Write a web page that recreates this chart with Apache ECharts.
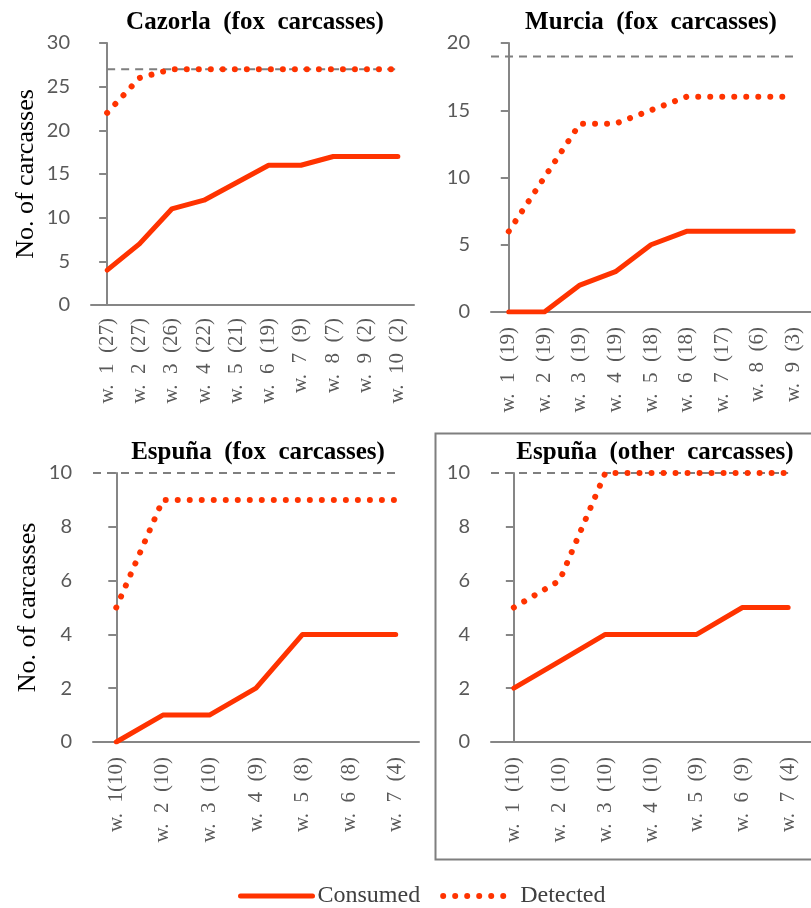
<!DOCTYPE html>
<html>
<head>
<meta charset="utf-8">
<script src="https://cdn.jsdelivr.net/npm/echarts@6/dist/echarts.min.js"></script>
<style>
  html, body { margin: 0; padding: 0; background: #ffffff; }
  #chart { width: 811px; height: 908px; }
</style>
</head>
<body>
<div id="chart"></div>
<script>
// Weekly cumulative counts of carcasses consumed / detected at each site.
// Category labels: week number and, in brackets, carcasses still available.
const cazorlaWeeks = ['w. 1 (27)', 'w. 2 (27)', 'w. 3 (26)', 'w. 4 (22)', 'w. 5 (21)',
                      'w. 6 (19)', 'w. 7 (9)', 'w. 8 (7)', 'w. 9 (2)', 'w. 10 (2)'];
const cazorlaConsumed = [4, 7, 11, 12, 14, 16, 16, 17, 17, 17];
const cazorlaDetected = [22, 26, 27, 27, 27, 27, 27, 27, 27, 27];
const cazorlaTotal = 27;

const murciaWeeks = ['w. 1 (19)', 'w. 2 (19)', 'w. 3 (19)', 'w. 4 (19)', 'w. 5 (18)',
                     'w. 6 (18)', 'w. 7 (17)', 'w. 8 (6)', 'w. 9 (3)'];
const murciaConsumed = [0, 0, 2, 3, 5, 6, 6, 6, 6];
const murciaDetected = [6, 10, 14, 14, 15, 16, 16, 16, 16];
const murciaTotal = 19;

const espunaFoxWeeks = ['w. 1(10)', 'w. 2 (10)', 'w. 3 (10)', 'w. 4 (9)', 'w. 5 (8)',
                        'w. 6 (8)', 'w. 7 (4)'];
const espunaFoxConsumed = [0, 1, 1, 2, 4, 4, 4];
const espunaFoxDetected = [5, 9, 9, 9, 9, 9, 9];
const espunaFoxTotal = 10;

const espunaOtherWeeks = ['w. 1 (10)', 'w. 2 (10)', 'w. 3 (10)', 'w. 4 (10)', 'w. 5 (9)',
                          'w. 6 (9)', 'w. 7 (4)'];
const espunaOtherConsumed = [2, 3, 4, 4, 4, 5, 5];
const espunaOtherDetected = [5, 6, 10, 10, 10, 10, 10];
const espunaOtherTotal = 10;

const yMax = [30, 20, 10, 10];
const yStep = [5, 5, 2, 2];

const RED = '#ff3300';
const AXIS = '#868686';
const TICK_TEXT = '#595959';
const SERIF = '"Liberation Serif", "Times New Roman", serif';

const consumedLine = { color: RED, width: 5, cap: 'round', join: 'round' };
const detectedLine = { color: RED, width: 6, type: [0.01, 12], cap: 'round' };

const panels = [
  { title: 'Cazorla  (fox  carcasses)', weeks: cazorlaWeeks, consumed: cazorlaConsumed,
    detected: cazorlaDetected, total: cazorlaTotal, refFromAxis: false, labelMargin: 13,
    grid: { left: 91, top: 43, width: 323, height: 262 }, titleX: 250, titleY: 5 },
  { title: 'Murcia  (fox  carcasses)', weeks: murciaWeeks, consumed: murciaConsumed,
    detected: murciaDetected, total: murciaTotal, refFromAxis: true, labelMargin: 15,
    grid: { left: 491, top: 43, width: 324, height: 269 }, titleX: 646, titleY: 5 },
  { title: 'Espuña  (fox  carcasses)', weeks: espunaFoxWeeks, consumed: espunaFoxConsumed,
    detected: espunaFoxDetected, total: espunaFoxTotal, refFromAxis: true, labelMargin: 15,
    grid: { left: 93, top: 473, width: 326, height: 269 }, titleX: 253, titleY: 435 },
  { title: 'Espuña  (other  carcasses)', weeks: espunaOtherWeeks, consumed: espunaOtherConsumed,
    detected: espunaOtherDetected, total: espunaOtherTotal, refFromAxis: true, labelMargin: 15,
    grid: { left: 491, top: 473, width: 324, height: 269 }, titleX: 650, titleY: 435 }
];

const grids = [], xAxes = [], yAxes = [], series = [], titles = [];

panels.forEach((p, i) => {
  grids.push(Object.assign({ containLabel: false }, p.grid));
  titles.push({
    text: p.title, left: p.titleX, top: p.titleY, textAlign: 'center',
    textStyle: { fontFamily: SERIF, fontWeight: 'bold', fontSize: 25, color: '#000' }
  });
  // visible category axis
  xAxes.push({
    type: 'category', gridIndex: i, data: p.weeks, boundaryGap: true,
    axisLine: { lineStyle: { color: AXIS, width: 2 } },
    axisTick: { show: false },
    axisLabel: {
      rotate: 90, margin: p.labelMargin, interval: 0, color: TICK_TEXT,
      fontFamily: SERIF, fontSize: 21,
      formatter: v => v.replace(/ /g, '  ')
    },
    splitLine: { show: false }
  });
  yAxes.push({
    type: 'value', gridIndex: i, min: 0, max: yMax[i], interval: yStep[i],
    name: (i === 0 || i === 2) ? 'No. of carcasses' : '',
    nameLocation: 'middle', nameGap: 52, nameRotate: 90,
    nameTextStyle: { fontFamily: SERIF, fontSize: 26, color: '#000' },
    axisLine: { show: true, lineStyle: { color: AXIS, width: 2 } },
    axisTick: { show: true, length: 8, lineStyle: { color: AXIS, width: 2 } },
    axisLabel: { margin: 21, color: TICK_TEXT, fontFamily: 'Lato, "Open Sans", sans-serif', fontSize: 20 },
    splitLine: { show: false }
  });
});

// hidden continuous x axes for the total-carcass reference lines
panels.forEach((p, i) => {
  xAxes.push({
    type: 'value', gridIndex: i, min: -0.5, max: p.weeks.length - 0.5, show: false
  });
});

panels.forEach((p, i) => {
  const n = p.weeks.length;
  series.push({
    name: 'Total', type: 'line', xAxisIndex: panels.length + i, yAxisIndex: i,
    data: [[p.refFromAxis ? -0.5 : 0, p.total], [n - 1, p.total]],
    symbol: 'none', silent: true, z: 1,
    lineStyle: { color: '#7f7f7f', width: 2, type: [8, 6] }
  });
  series.push({
    name: 'Consumed', type: 'line', xAxisIndex: i, yAxisIndex: i, data: p.consumed,
    symbol: 'none', z: 3, lineStyle: consumedLine, itemStyle: { color: RED }
  });
  series.push({
    name: 'Detected', type: 'line', xAxisIndex: i, yAxisIndex: i, data: p.detected,
    symbol: 'none', z: 2, lineStyle: detectedLine, itemStyle: { color: RED }
  });
});

const chart = echarts.init(document.getElementById('chart'), null, { renderer: 'canvas' });
chart.setOption({
  backgroundColor: '#ffffff',
  animation: false,
  title: titles,
  grid: grids,
  xAxis: xAxes,
  yAxis: yAxes,
  series: series,
  legend: {
    data: [
      { name: 'Consumed', lineStyle: consumedLine, itemStyle: { opacity: 0 } },
      { name: 'Detected', lineStyle: detectedLine, itemStyle: { opacity: 0 } }
    ],
    left: 233, top: 879,
    itemWidth: 72, itemHeight: 14, itemGap: 20,
    textStyle: { fontFamily: SERIF, fontSize: 24, color: '#404040' }
  },
  graphic: [{
    type: 'rect', left: 433, top: 431,
    shape: { width: 377, height: 426 },
    style: { fill: 'none', stroke: '#7f7f7f', lineWidth: 2 },
    silent: true
  }]
});
</script>
</body>
</html>
